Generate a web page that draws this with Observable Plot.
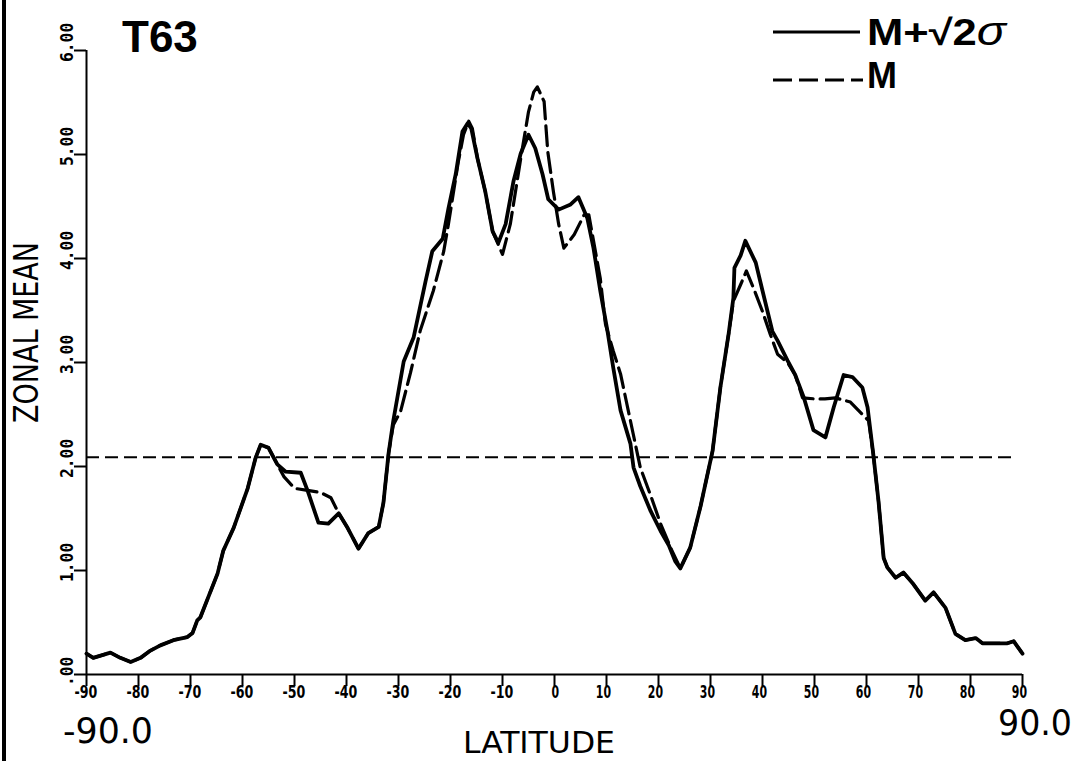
<!DOCTYPE html>
<html>
<head>
<meta charset="utf-8">
<script src="https://cdn.jsdelivr.net/npm/d3@7"></script>
<script src="https://cdn.jsdelivr.net/npm/@observablehq/plot@0.6"></script>
<style>
  html, body { margin: 0; padding: 0; background: #fff; }
  #wrap { position: relative; width: 1076px; height: 761px; overflow: hidden; background: #fff; }
  #edge { position: absolute; left: 2px; top: 0; width: 4px; height: 761px; background: #000; }
</style>
</head>
<body>
<div id="wrap"><div id="chart"></div><div id="edge"></div></div>
<script>
// Zonal mean plus sqrt(2)·sigma (solid) by latitude
const latUpper = [-90, -88.7, -85.4, -83.5, -81.5, -79.6, -77.7, -75.8, -73.3, -70.6, -69.6, -68.7, -68.1,
  -64.8, -63.7, -61.7, -59.0, -57.5, -56.5, -55.0, -53.3, -51.7, -48.8, -47.5, -45.4, -43.5, -41.5, -39.8,
  -37.7, -35.8, -33.8, -32.9, -31.9, -31.0, -29.0, -27.1, -24.8, -23.5, -21.5, -20.4, -19.0, -17.7, -16.7,
  -16.0, -14.8, -13.3, -11.9, -10.8, -9.4, -7.9, -6.5, -5.0, -3.7, -2.3, -1.2, 0.8, 3.1, 4.6, 6.3, 7.5,
  8.8, 10.2, 11.3, 12.7, 14.6, 15.2, 16.5, 18.5, 20.4, 22.0, 23.2, 24.2, 26.1, 28.1, 30.4, 31.9, 33.5,
  34.4, 34.6, 35.8, 36.7, 38.7, 40.0, 41.9, 42.9, 44.8, 46.3, 47.9, 49.8, 52.1, 53.7, 55.6, 57.3, 59.2,
  60.2, 61.3, 62.3, 63.3, 64.0, 65.6, 67.1, 69.0, 71.3, 72.9, 75.2, 77.1, 79.0, 81.0, 82.3, 87.1, 88.3, 90];
const valUpper = [0.20, 0.16, 0.21, 0.16, 0.12, 0.16, 0.23, 0.28, 0.33, 0.36, 0.40, 0.52, 0.55,
  0.97, 1.19, 1.41, 1.79, 2.08, 2.21, 2.18, 2.02, 1.95, 1.94, 1.77, 1.46, 1.45, 1.55, 1.41,
  1.21, 1.36, 1.42, 1.65, 2.13, 2.44, 3.01, 3.24, 3.78, 4.07, 4.19, 4.48, 4.81, 5.22, 5.30,
  5.25, 4.96, 4.64, 4.26, 4.15, 4.33, 4.74, 5.01, 5.19, 5.06, 4.81, 4.57, 4.47, 4.52, 4.59, 4.39, 4.10,
  3.69, 3.30, 2.95, 2.54, 2.22, 1.99, 1.81, 1.57, 1.38, 1.24, 1.09, 1.02, 1.22, 1.62, 2.15, 2.76, 3.28,
  3.62, 3.91, 4.03, 4.17, 3.96, 3.69, 3.30, 3.21, 3.02, 2.88, 2.67, 2.35, 2.28, 2.57, 2.88, 2.86, 2.76,
  2.57, 2.12, 1.67, 1.12, 1.03, 0.93, 0.98, 0.87, 0.71, 0.79, 0.64, 0.39, 0.33, 0.35, 0.30, 0.30, 0.32, 0.20];

// Zonal mean M (dashed) by latitude
const latMean = [-90, -88.7, -85.4, -83.5, -81.5, -79.6, -77.7, -75.8, -73.3, -70.6, -69.6, -68.7, -68.1,
  -64.8, -63.7, -61.7, -59.0, -57.5, -56.5, -55.0, -53.3, -52.0, -50.0, -47.5, -45.0, -43.0, -41.5, -39.8,
  -37.7, -35.8, -33.8, -32.9, -31.9, -31.0, -29.6, -27.7, -25.8, -23.3, -21.3, -20.4, -18.5, -17.5, -16.5,
  -15.8, -14.8, -13.3, -11.9, -10.0, -8.5, -6.5, -5.0, -4.0, -3.3, -2.0, -1.3, -0.2, 0.8, 1.8, 3.8, 5.7,
  6.6, 8.8, 9.8, 11.3, 12.7, 14.6, 16.5, 18.5, 20.4, 22.5, 24.2, 26.1, 28.1, 30.4, 31.9, 33.5,
  34.4, 35.8, 36.9, 38.4, 40.0, 41.5, 42.9, 44.8, 46.3, 47.7, 50.0, 52.0, 54.0, 56.9, 60.4, 61.3,
  62.3, 63.3, 64.0, 65.6, 67.1, 69.0, 71.3, 72.9, 75.2, 77.1, 79.0, 81.0, 82.3, 87.1, 88.3, 90];
const valMean = [0.20, 0.16, 0.21, 0.16, 0.12, 0.16, 0.23, 0.28, 0.33, 0.36, 0.40, 0.52, 0.55,
  0.97, 1.19, 1.41, 1.79, 2.08, 2.21, 2.18, 2.02, 1.90, 1.79, 1.77, 1.75, 1.70, 1.55, 1.41,
  1.21, 1.36, 1.42, 1.65, 2.13, 2.40, 2.53, 2.90, 3.31, 3.69, 4.07, 4.33, 4.93, 5.19, 5.32,
  5.25, 4.96, 4.64, 4.26, 4.04, 4.33, 4.96, 5.41, 5.60, 5.65, 5.51, 5.03, 4.64, 4.33, 4.10, 4.23, 4.42,
  4.42, 3.81, 3.37, 3.11, 2.89, 2.44, 1.99, 1.72, 1.45, 1.20, 1.02, 1.22, 1.62, 2.15, 2.76, 3.28,
  3.59, 3.75, 3.88, 3.70, 3.49, 3.27, 3.08, 3.00, 2.88, 2.66, 2.65, 2.65, 2.66, 2.62, 2.44, 2.12,
  1.67, 1.12, 1.03, 0.93, 0.98, 0.87, 0.71, 0.79, 0.64, 0.39, 0.33, 0.35, 0.30, 0.30, 0.32, 0.20];

// Global reference level (dashed horizontal) and its latitude span
const refLevel = [2.09];
const refSpan = [-90, 88.5];

// Axis ticks and labels
const xTicks = [-90, -80, -70, -60, -50, -40, -30, -20, -10, 0, 10, 20, 30, 40, 50, 60, 70, 80, 90];
const xTickLabels = ["-90", "-80", "-70", "-60", "-50", "-40", "-30", "-20", "-10", "0",
  "10", "20", "30", "40", "50", "60", "70", "80", "90"];
const yTicks = [0, 1, 2, 3, 4, 5, 6];
const yTickLabels = [".00", "1.00", "2.00", "3.00", "4.00", "5.00", "6.00"];

const upper = latUpper.map((lat, i) => ({lat, v: valUpper[i]}));
const mean = latMean.map((lat, i) => ({lat, v: valMean[i]}));

const axisFont = "'DejaVu Sans Condensed', 'DejaVu Sans', sans-serif";
const monoFont = "'DejaVu Sans Mono', monospace";
const boldSans = "'Liberation Sans', Arial, sans-serif";

const chart = Plot.plot({
  width: 1076,
  height: 761,
  marginLeft: 86,
  marginRight: 54,
  marginTop: 50,
  marginBottom: 87,
  x: {domain: [-90, 90]},
  y: {domain: [0, 6]},
  style: {background: "transparent", fontFamily: axisFont, color: "#000"},
  marks: [
    // axis lines and tick marks (labels are added below)
    Plot.ruleY([0], {stroke: "#000", strokeWidth: 2}),
    Plot.ruleX([-90], {y1: 0, y2: 6, stroke: "#000", strokeWidth: 2}),
    Plot.axisX({ticks: xTicks, tickSize: 12, tickFormat: () => "", label: null, strokeWidth: 2}),
    Plot.axisY({ticks: yTicks, tickSize: 12, tickFormat: () => "", label: null, strokeWidth: 2}),
    // reference level
    Plot.ruleY(refLevel, {x1: refSpan[0], x2: refSpan[1], stroke: "#000", strokeWidth: 2, strokeDasharray: "13,6"}),
    // curves
    Plot.line(mean, {x: "lat", y: "v", stroke: "#000", strokeWidth: 3.2, strokeDasharray: "20,7", strokeLinejoin: "round"}),
    Plot.line(upper, {x: "lat", y: "v", stroke: "#000", strokeWidth: 3.8, strokeLinejoin: "round"})
  ]
});

document.getElementById("chart").appendChild(chart);

const sx = chart.scale("x");
const sy = chart.scale("y");
const svg = d3.select(chart);
const ann = svg.append("g").attr("fill", "#000").attr("text-anchor", "start");

// tick labels placed with the plot's own scales
const yLab = ann.append("g").attr("font-family", monoFont).attr("font-weight", "bold").attr("font-size", 17);
yTicks.forEach((t, i) => {
  yLab.append("text")
    .attr("transform", `translate(${sx.apply(-90) - 13},${sy.apply(t) + 12}) rotate(-90)`)
    .attr("text-anchor", "start")
    .attr("textLength", yTickLabels[i].length * 9.8)
    .attr("lengthAdjust", "spacingAndGlyphs")
    .text(yTickLabels[i]);
});
const xLab = ann.append("g").attr("font-family", axisFont).attr("font-weight", "bold").attr("font-size", 18);
xTicks.forEach((t, i) => {
  const neg = t < 0;
  xLab.append("text")
    .attr("x", sx.apply(t) + (neg ? 0 : 5))
    .attr("y", sy.apply(0) + 24)
    .attr("text-anchor", neg ? "middle" : "end")
    .attr("textLength", xTickLabels[i].length * 7.6)
    .attr("lengthAdjust", "spacingAndGlyphs")
    .text(xTickLabels[i]);
});

// title
ann.append("text").attr("x", 122).attr("y", 52)
  .attr("font-family", boldSans).attr("font-weight", "bold")
  .attr("font-size", 44).text("T63");

// legend
ann.append("line").attr("x1", 773).attr("x2", 860).attr("y1", 32).attr("y2", 32)
  .attr("stroke", "#000").attr("stroke-width", 3);
ann.append("line").attr("x1", 773).attr("x2", 863).attr("y1", 80).attr("y2", 80)
  .attr("stroke", "#000").attr("stroke-width", 3).attr("stroke-dasharray", "19,7");
const lg = ann.append("text").attr("x", 867).attr("y", 45)
  .attr("font-family", boldSans).attr("font-weight", "bold").attr("font-size", 36)
  .attr("textLength", 139).attr("lengthAdjust", "spacingAndGlyphs");
lg.append("tspan").text("M+√2");
lg.append("tspan").attr("font-style", "italic").attr("font-weight", "normal").attr("font-size", 40).text("σ");
ann.append("text").attr("x", 867).attr("y", 88)
  .attr("font-family", boldSans).attr("font-weight", "bold")
  .attr("font-size", 36).text("M");

// axis titles and range end labels
ann.append("text").attr("x", 463).attr("y", 753)
  .attr("font-family", axisFont).attr("font-size", 30)
  .attr("textLength", 152).attr("lengthAdjust", "spacingAndGlyphs").text("LATITUDE");
ann.append("text").attr("transform", "translate(38,423) rotate(-90)")
  .attr("font-family", axisFont).attr("font-size", 34)
  .attr("textLength", 181).attr("lengthAdjust", "spacingAndGlyphs").text("ZONAL MEAN");
ann.append("text").attr("x", 63).attr("y", 743)
  .attr("font-family", axisFont).attr("font-size", 36)
  .attr("textLength", 90).attr("lengthAdjust", "spacingAndGlyphs").text("-90.0");
ann.append("text").attr("x", 998).attr("y", 735)
  .attr("font-family", axisFont).attr("font-size", 36)
  .attr("textLength", 74).attr("lengthAdjust", "spacingAndGlyphs").text("90.0");
</script>
</body>
</html>
